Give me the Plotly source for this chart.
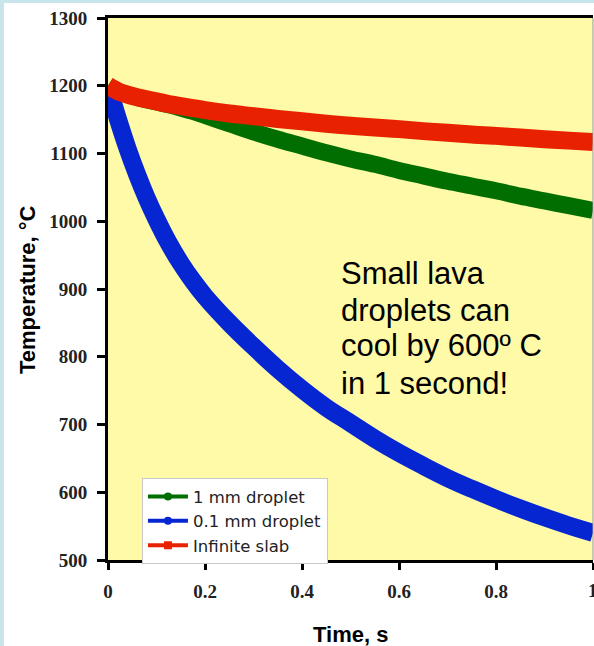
import plotly.graph_objects as go

# ---- data ----
time_s = [0, 0.02, 0.04, 0.06, 0.08, 0.1, 0.125, 0.15, 0.175, 0.2,
          0.25, 0.3, 0.35, 0.4, 0.45, 0.5, 0.55, 0.6, 0.65, 0.7,
          0.75, 0.8, 0.85, 0.9, 0.95, 1.0]

temp_1mm = [1200, 1192, 1187, 1183, 1179, 1176, 1172, 1167, 1162, 1156,
            1144, 1132, 1121, 1111, 1101, 1092, 1084, 1075, 1067, 1059,
            1052, 1045, 1037, 1030, 1023, 1016]

temp_01mm = [1200, 1152, 1108, 1069, 1034, 1003, 968, 938, 912, 889,
             850, 815, 782, 752, 725, 702, 679, 658, 639, 621,
             605, 590, 576, 563, 551, 540]

temp_slab = [1200, 1192, 1187, 1183, 1180, 1177, 1173, 1170, 1167, 1164,
             1159, 1155, 1151, 1147.5, 1144, 1141, 1138.5, 1136, 1133, 1130.5,
             1128, 1126, 1123.5, 1121, 1119, 1117]

series_names = ["1 mm droplet", "0.1 mm droplet", "Infinite slab"]
x_ticks = [0, 0.2, 0.4, 0.6, 0.8]
x_tick_labels = ["0", "0.2", "0.4", "0.6", "0.8"]
x_last_tick = 1
x_last_label = "1"
y_ticks = [500, 600, 700, 800, 900, 1000, 1100, 1200, 1300]

note_lines = ["Small lava", "droplets can", "cool by 600º C", "in 1 second!"]
note_line_y = [923, 869, 816, 760]   # data-y of each text line centre

GREEN = "#006E00"
BLUE = "#0626D2"
RED = "#E82200"

fig = go.Figure()

# thick curves (drawing order: green, blue, red on top)
for vals, col, w in [(temp_1mm, GREEN, 17), (temp_01mm, BLUE, 18), (temp_slab, RED, 18)]:
    fig.add_trace(go.Scatter(x=time_s, y=vals, mode="lines",
                             line=dict(color=col, width=w, shape="spline", smoothing=1.0),
                             showlegend=False, hoverinfo="skip"))

# legend entries (thin line + marker)
for name, col, sym in [(series_names[0], GREEN, "circle"),
                       (series_names[1], BLUE, "circle"),
                       (series_names[2], RED, "square")]:
    fig.add_trace(go.Scatter(x=[None], y=[None], mode="lines+markers", name=name,
                             line=dict(color=col, width=4),
                             marker=dict(color=col, size=8, symbol=sym)))

tick_font = dict(family="Liberation Serif", size=19, color="#222222")

fig.update_layout(
    width=594, height=646,
    margin=dict(l=108, r=1, t=18, b=86),
    paper_bgcolor="white",
    plot_bgcolor="#FEFAA8",
    showlegend=True,
    legend=dict(x=0.07, y=0.151, xanchor="left", yanchor="top",
                bgcolor="white", bordercolor="#C8C8C8", borderwidth=1,
                font=dict(family="DejaVu Sans", size=16.5, color="#222222"),
                tracegroupgap=0, itemwidth=40),
    xaxis=dict(range=[0, 1], tickvals=x_ticks + [x_last_tick],
               ticktext=[f"<b>{t}</b>" for t in x_tick_labels] + [""],
               tickfont=tick_font, ticks="outside", ticklen=7, tickwidth=3, tickcolor="black",
               showline=True, linewidth=3, linecolor="black", mirror=True,
               showgrid=False, zeroline=False, ticklabelstandoff=5),
    yaxis=dict(range=[500, 1300], tickvals=y_ticks, ticktext=[f"<b>{t}</b>" for t in y_ticks],
               tickfont=tick_font, ticks="outside", ticklen=8, tickwidth=3, tickcolor="black",
               showline=True, linewidth=3, linecolor="black",
               showgrid=False, zeroline=False, ticklabelstandoff=6),
)

# last x tick label (cut by the page edge, as in the original)
fig.add_annotation(xref="x", yref="paper", x=x_last_tick, y=-0.0554, text=f"<b>{x_last_label}</b>",
                   showarrow=False, xanchor="center", yanchor="middle",
                   font=tick_font)

# axis titles
fig.add_annotation(xref="paper", yref="paper", x=-0.167, y=0.498, text="<b>Temperature, °C</b>",
                   textangle=-90, showarrow=False, xanchor="center", yanchor="middle",
                   font=dict(family="Liberation Sans", size=22, color="black"))
fig.add_annotation(xref="paper", yref="paper", x=0.499, y=-0.138, text="<b>Time, s</b>",
                   showarrow=False, xanchor="center", yanchor="middle",
                   font=dict(family="Liberation Sans", size=22, color="black"))

# note text, one annotation per line
for line, yv in zip(note_lines, note_line_y):
    fig.add_annotation(xref="paper", yref="y", x=0.476, y=yv, text=line,
                       showarrow=False, xanchor="left", yanchor="middle", align="left",
                       font=dict(family="Liberation Sans", size=31, color="black"))

# right thin gray border of plot area
fig.add_shape(type="line", xref="paper", yref="paper", x0=1, x1=1, y0=0, y1=1,
              line=dict(color="#999999", width=1))

# light blue frame at page edges
fig.add_shape(type="rect", xref="paper", yref="paper", x0=-0.2227, x1=-0.2144,
              y0=-0.16, y1=1.034, line=dict(width=0), fillcolor="#C9E5EC", layer="above")
fig.add_shape(type="rect", xref="paper", yref="paper", x0=-0.2227, x1=1.01,
              y0=1.0277, y1=1.034, line=dict(width=0), fillcolor="#C9E5EC", layer="above")

fig.write_html("out.html")
